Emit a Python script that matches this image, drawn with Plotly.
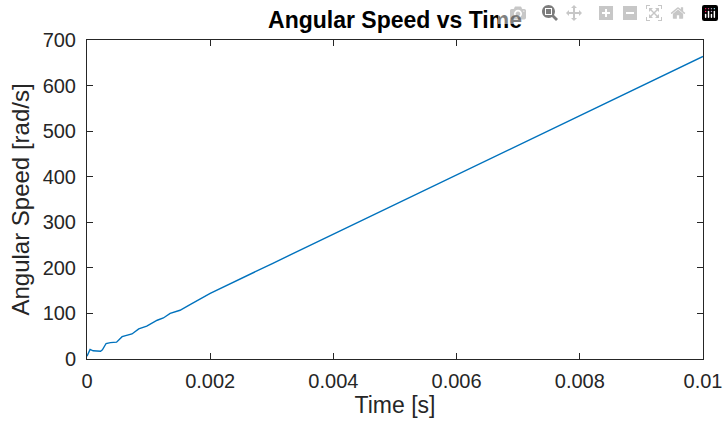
import plotly.graph_objects as go

# values
time_s = [0.0, 0.00005, 0.0001, 0.00016, 0.00022, 0.00025, 0.00031, 0.00038, 0.00048,
          0.00057, 0.00065, 0.00073, 0.00084, 0.00097, 0.00114, 0.00124, 0.00135,
          0.00151, 0.00168, 0.00184, 0.002, 0.003, 0.004, 0.005, 0.006, 0.007,
          0.008, 0.009, 0.01]
speed = [6, 21, 18, 18, 17, 20, 34, 36, 37,
         49, 52, 55, 66, 72, 85, 90, 100,
         107, 120, 132, 144, 209, 274, 339, 404, 469,
         534, 599, 664]

x_ticks = [0, 0.002, 0.004, 0.006, 0.008, 0.01]
x_labels = ["0", "0.002", "0.004", "0.006", "0.008", "0.01"]
y_ticks = [0, 100, 200, 300, 400, 500, 600, 700]

FONT = "Liberation Sans, Arial, sans-serif"
AX = "#262626"

W, H = 724, 430

fig = go.Figure()
fig.add_trace(go.Scatter(x=time_s, y=speed, mode="lines",
                         line=dict(color="#0072BD", width=1.4),
                         showlegend=False))

axis_common = dict(showline=True, linecolor=AX, linewidth=1, mirror="ticks",
                   ticks="inside", ticklen=6, tickcolor=AX, showgrid=False,
                   zeroline=False, automargin=False, ticklabeloverflow="allow",
                   tickfont=dict(family=FONT, size=20, color=AX))

fig.update_xaxes(range=[0, 0.01], tickvals=x_ticks, ticktext=x_labels,
                 ticklabelstandoff=4,
                 title=dict(text="Time [s]", standoff=5,
                            font=dict(family=FONT, size=23, color=AX)),
                 **axis_common)
fig.update_yaxes(range=[0, 700], tickvals=y_ticks, ticklabelstandoff=6,
                 title=dict(text="Angular Speed [rad/s]", standoff=6,
                            font=dict(family=FONT, size=24, color=AX)),
                 **axis_common)

fig.update_layout(
    width=W, height=H,
    margin=dict(l=87, r=21, t=40, b=71),
    paper_bgcolor="white", plot_bgcolor="white",
    title=dict(text="<b>Angular Speed vs Time</b>", x=0.5, xanchor="center",
               xref="paper", y=1 - 20 / H, yref="container", yanchor="middle",
               font=dict(family=FONT, size=23, color="black")),
)

# drop the page's default body margin so the figure sits at the window's corner
fig.write_html("out.html",
               post_script="document.body.style.margin='0';"
                           "document.body.style.overflow='hidden';")
